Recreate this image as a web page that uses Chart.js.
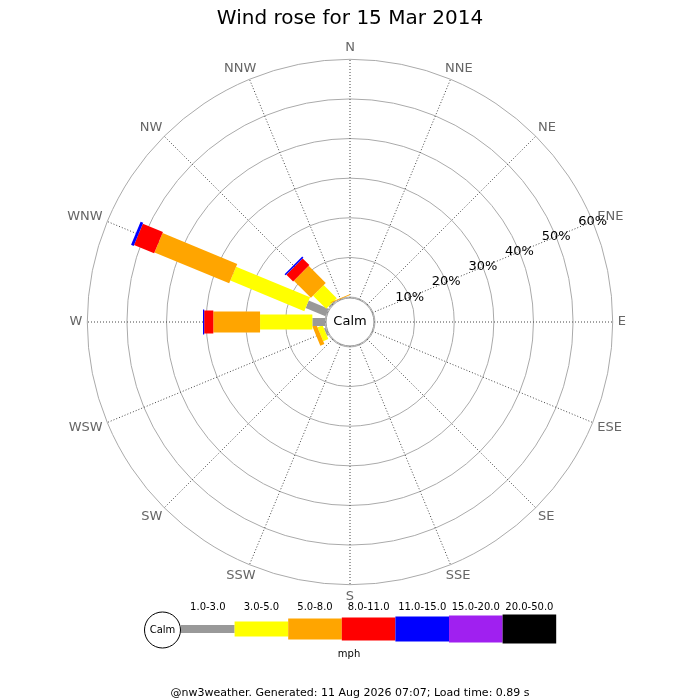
<!DOCTYPE html>
<html>
<head>
<meta charset="utf-8">
<title>Wind rose</title>
<script src="https://cdn.jsdelivr.net/npm/chart.js@4.4.1/dist/chart.umd.min.js"></script>
<style>
  body { margin: 0; background: #fff; }
  #box { width: 700px; height: 700px; }
</style>
</head>
<body>
<div id="box"><canvas id="rose"></canvas></div>
<script>
// compass points, clockwise from north
const directions = ['N', 'NNE', 'NE', 'ENE', 'E', 'ESE', 'SE', 'SSE',
                    'S', 'SSW', 'SW', 'WSW', 'W', 'WNW', 'NW', 'NNW'];
const speedClasses = ['1.0-3.0', '3.0-5.0', '5.0-8.0', '8.0-11.0', '11.0-15.0', '15.0-20.0', '20.0-50.0'];
const classColours = ['#999999', '#ffff00', '#ffa500', '#ff0000', '#0000ff', '#a020f0', '#000000'];
const classWidths = [8, 15, 21, 23, 25, 27, 29];

// % of time per direction for each speed class (mph)
const freq1to3   = [0, 0, 0, 0, 0, 0, 0, 0, 0, 0, 0, 0.4, 3.2, 5.4, 0.3, 0];
const freq3to5   = [0, 0, 0, 0, 0, 0, 0, 0, 0, 0, 0, 1.4, 13.2, 20.2, 4.7, 0];
const freq5to8   = [0, 0, 0, 0, 0, 0, 0, 0, 0, 0, 0, 1.1, 11.8, 20.4, 6.1, 0.2];
const freq8to11  = [0, 0, 0, 0, 0, 0, 0, 0, 0, 0, 0, 0, 2.3, 5.5, 2.4, 0];
const freq11to15 = [0, 0, 0, 0, 0, 0, 0, 0, 0, 0, 0, 0, 0.3, 0.7, 0.4, 0];
const freq15to20 = [0, 0, 0, 0, 0, 0, 0, 0, 0, 0, 0, 0, 0, 0, 0, 0];
const freq20to50 = [0, 0, 0, 0, 0, 0, 0, 0, 0, 0, 0, 0, 0, 0, 0, 0];

const tickValues = [0, 10, 20, 30, 40, 50, 60];

const seriesList = [freq1to3, freq3to5, freq5to8, freq8to11, freq11to15, freq15to20, freq20to50];

// push a label away from the ring, more so on the diagonals
const labelShift = s => Math.sign(s) * Math.min(1, Math.abs(s) * 1.2);

// bars, calm circle, compass labels and key are painted here using the r scale
const roseDrawing = {
    id: 'roseDrawing',
    beforeDatasetsDraw(chart) {
        const r = chart.scales.r;
        const ctx = chart.ctx;
        const rad = r.getDistanceFromCenterForValue(0) - 1;
        ctx.save();
        ctx.beginPath();
        ctx.arc(r.xCenter, r.yCenter, rad, 0, Math.PI * 2);
        ctx.fillStyle = '#fff';
        ctx.fill();
        ctx.strokeStyle = '#999';
        ctx.lineWidth = 1;
        ctx.stroke();
        ctx.restore();
    },
    afterDatasetsDraw(chart) {
        const r = chart.scales.r;
        const ctx = chart.ctx;
        ctx.save();
        ctx.lineCap = 'butt';
        directions.forEach((d, i) => {
            let base = 0;
            chart.data.datasets.forEach((ds, k) => {
                const v = ds.data[i];
                if (!v) return;
                const p1 = r.getPointPositionForValue(i, base);
                const p2 = r.getPointPositionForValue(i, base + v);
                ctx.beginPath();
                ctx.moveTo(p1.x, p1.y);
                ctx.lineTo(p2.x, p2.y);
                ctx.lineWidth = classWidths[k];
                ctx.strokeStyle = classColours[k];
                ctx.stroke();
                base += v;
            });
        });
        ctx.restore();
    },
    afterDraw(chart) {
        const r = chart.scales.r;
        const ctx = chart.ctx;
        ctx.save();
        ctx.textAlign = 'center';
        ctx.textBaseline = 'middle';

        // compass points
        ctx.font = '13px "DejaVu Sans"';
        ctx.fillStyle = '#666';
        const dist = r.drawingArea + 5;
        directions.forEach((d, i) => {
            const p = r.getPointPosition(i, dist);
            const ux = (p.x - r.xCenter) / dist;
            const uy = (p.y - r.yCenter) / dist;
            const w = ctx.measureText(d).width;
            ctx.fillText(d, p.x + labelShift(ux) * w / 2, p.y + labelShift(uy) * 6.5);
        });

        // percent labels along ENE
        ctx.fillStyle = '#000';
        const ene = directions.indexOf('ENE');
        tickValues.forEach(v => {
            if (v === 0) return;
            const p = r.getPointPositionForValue(ene, v);
            ctx.fillText(v + '%', p.x, p.y);
        });

        ctx.fillText('Calm', r.xCenter, r.yCenter);

        // key
        const kx = 181, kw = 53.6, ky = 629;
        ctx.beginPath();
        ctx.arc(162.5, ky + 1, 18, 0, Math.PI * 2);
        ctx.fillStyle = '#fff';
        ctx.fill();
        ctx.strokeStyle = '#000';
        ctx.lineWidth = 1;
        ctx.stroke();
        ctx.font = '10px "DejaVu Sans"';
        ctx.fillStyle = '#000';
        ctx.fillText('Calm', 162.5, ky + 1);
        speedClasses.forEach((s, k) => {
            const x = kx + k * kw;
            const h = classWidths[k];
            ctx.fillStyle = classColours[k];
            ctx.fillRect(x, ky - h / 2, kw, h);
            ctx.fillStyle = '#000';
            ctx.fillText(s, x + kw / 2, 607);
        });
        ctx.fillText('mph', 349, 654);
        ctx.restore();
    }
};

Chart.defaults.font.family = '"DejaVu Sans"';

new Chart(document.getElementById('rose'), {
    type: 'radar',
    data: {
        labels: directions,
        datasets: seriesList.map((data, k) => ({
            label: speedClasses[k],
            data: data,
            showLine: false,
            fill: false,
            borderWidth: 0,
            pointRadius: 0,
            pointHoverRadius: 0,
            backgroundColor: classColours[k]
        }))
    },
    options: {
        responsive: true,
        maintainAspectRatio: false,
        animation: false,
        events: [],
        plugins: {
            legend: { display: false },
            tooltip: { enabled: false },
            title: {
                display: true,
                text: 'Wind rose for 15 Mar 2014',
                color: '#000',
                font: { size: 20, weight: 'normal' },
                padding: { top: 7, bottom: 10 }
            },
            subtitle: {
                display: true,
                position: 'bottom',
                text: '@nw3weather. Generated: 11 Aug 2026 07:07; Load time: 0.89 s',
                color: '#000',
                font: { size: 11, weight: 'normal' },
                padding: { top: 4, bottom: 0 }
            }
        },
        scales: {
            r: {
                min: -6.3,
                max: 60,
                afterBuildTicks: (scale) => {
                    scale.ticks = tickValues.map(v => ({ value: v }));
                },
                afterFit: (scale) => {
                    scale.xCenter = 350;
                    scale.yCenter = 322;
                    scale.drawingArea = 262.7;
                },
                ticks: { display: false },
                pointLabels: { display: false },
                grid: { circular: true, color: '#aaa', lineWidth: 1 },
                angleLines: { display: true, color: '#444', lineWidth: 1, borderDash: [1, 2] }
            }
        }
    },
    plugins: [roseDrawing]
});
</script>
</body>
</html>
